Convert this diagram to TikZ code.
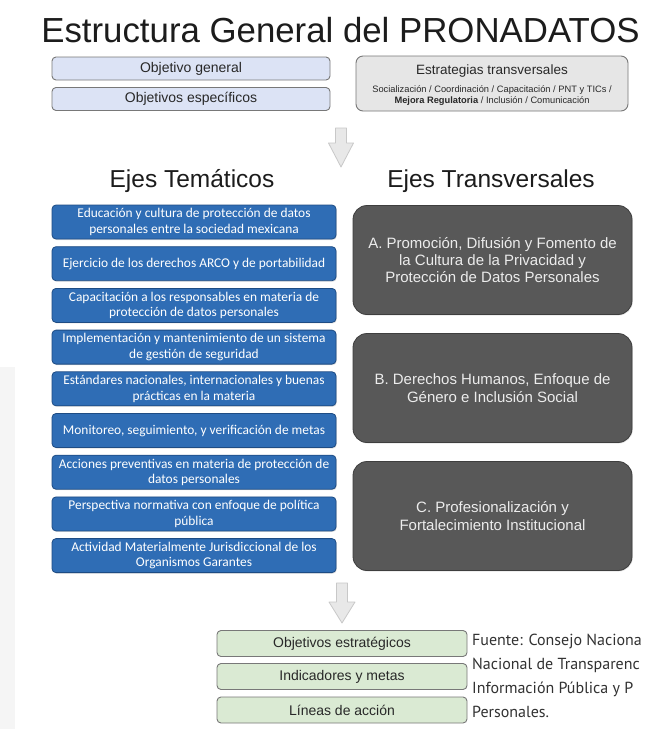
\documentclass[tikz,border=0pt]{standalone}
\usepackage{fontspec}
\setmainfont{Liberation Sans}
\newfontfamily\calib{Carlito}
\newfontfamily\srcfont{PT Sans}
\usetikzlibrary{shadows}
\definecolor{titlecol}{RGB}{28,28,28}
\definecolor{textdark}{RGB}{40,40,40}
\definecolor{lightblue}{RGB}{220,227,245}
\definecolor{boxborder}{RGB}{120,120,120}
\definecolor{etfill}{RGB}{230,230,230}
\definecolor{bluefill}{RGB}{47,109,181}
\definecolor{blueborder}{RGB}{30,76,132}
\definecolor{darkfill}{RGB}{88,88,88}
\definecolor{darkborder}{RGB}{62,62,62}
\definecolor{darktext}{RGB}{236,236,236}
\definecolor{greenfill}{RGB}{218,234,211}
\definecolor{arrowfill}{RGB}{232,232,232}
\definecolor{arrowline}{RGB}{200,200,200}
\definecolor{stripgray}{RGB}{245,245,245}
\definecolor{srccol}{RGB}{50,50,50}
\begin{document}
\begin{tikzpicture}[x=1pt,y=-1pt,
  topblue/.style={draw=boxborder, fill=lightblue, rounded corners=4pt, line width=0.9pt,
    minimum width=278pt, minimum height=23pt, inner sep=0pt, text=textdark,
    font=\fontsize{14}{16}\selectfont},
  topgray/.style={draw=boxborder, fill=etfill, rounded corners=7pt, line width=0.9pt,
    minimum width=272pt, minimum height=55pt, inner sep=0pt},
  bluebox/.style={draw=blueborder, fill=bluefill, rounded corners=4pt, line width=0.8pt,
    minimum width=284pt, minimum height=34pt, inner sep=0pt, align=center, text=white,
    font=\calib\fontsize{13.4}{15.5}\selectfont,
    drop shadow={opacity=0.25, shadow xshift=0.8pt, shadow yshift=-1pt}},
  darkbox/.style={draw=darkborder, fill=darkfill, rounded corners=14pt, line width=0.8pt,
    minimum width=279pt, minimum height=109pt, inner sep=0pt, align=center, text=darktext,
    font=\fontsize{15}{17.3}\selectfont,
    drop shadow={opacity=0.2, shadow xshift=0.8pt, shadow yshift=-1pt}},
  greenbox/.style={draw=boxborder, fill=greenfill, rounded corners=4pt, line width=0.9pt,
    minimum width=250pt, minimum height=26pt, inner sep=0pt, text=textdark,
    font=\fontsize{14}{16}\selectfont},
  heading/.style={anchor=base, text=titlecol, font=\fontsize{24.5}{28}\selectfont},
  blockarrow/.style={draw=arrowline, fill=arrowfill, line width=0.8pt, line join=round},
  srctext/.style={anchor=base west, inner sep=0pt, text=srccol, font=\srcfont\fontsize{16}{18}\selectfont}
]
\useasboundingbox (0,0) rectangle (645,729);
\clip (0,0) rectangle (645,729);
\fill[white] (0,0) rectangle (645,729);
\fill[stripgray] (0,367) rectangle (15,729);

% title
\node[anchor=base, text=titlecol, font=\fontsize{34.8}{40}\selectfont] (title) at (340.5,42)
  {Estructura General del PRONADATOS};

% top boxes
\node[topblue] (og) at (191,68.5) {Objetivo general};
\node[topblue] (oe) at (191,99) {Objetivos específicos};
\node[topgray] (et) at (492,83.5) {};
\node[text=textdark, font=\fontsize{13.5}{15}\selectfont, inner sep=0pt] (etT) at (492,71) {Estrategias transversales};
\node[text=textdark, font=\fontsize{9.3}{10.5}\selectfont, inner sep=0pt, align=center] (etS) at (492,95.5)
  {Socialización / Coordinación / Capacitación / PNT y TICs /\\\textbf{Mejora Regulatoria} / Inclusión / Comunicación};

% arrow 1
\draw[blockarrow] (335.5,128) -- (346.5,128) -- (346.5,143) -- (353.5,143) -- (341,167)
  -- (328.5,143) -- (335.5,143) -- cycle;

% headings
\node[heading] (ejT) at (192,187) {Ejes Temáticos};
\node[heading] (ejX) at (491,187) {Ejes Transversales};

% blue boxes
\node[bluebox] (b1) at (194,222.0) {Educación y cultura de protección de datos\\personales entre la sociedad mexicana};
\node[bluebox] (b2) at (194,263.7) {Ejercicio de los derechos ARCO y de portabilidad};
\node[bluebox] (b3) at (194,305.4) {Capacitación a los responsables en materia de\\protección de datos personales};
\node[bluebox] (b4) at (194,347.1) {Implementación y mantenimiento de un sistema\\de gestión de seguridad};
\node[bluebox] (b5) at (194,388.8) {Estándares nacionales, internacionales y buenas\\prácticas en la materia};
\node[bluebox] (b6) at (194,430.5) {Monitoreo, seguimiento, y verificación de metas};
\node[bluebox] (b7) at (194,472.2) {Acciones preventivas en materia de protección de\\datos personales};
\node[bluebox] (b8) at (194,513.9) {Perspectiva normativa con enfoque de política\\pública};
\node[bluebox] (b9) at (194,555.6) {Actividad Materialmente Jurisdiccional de los\\Organismos Garantes};

% dark boxes
\node[darkbox] (dA) at (492.5,260) {A. Promoción, Difusión y Fomento de\\la Cultura de la Privacidad y\\Protección de Datos Personales};
\node[darkbox] (dB) at (492.5,388) {B. Derechos Humanos, Enfoque de\\Género e Inclusión Social};
\node[darkbox] (dC) at (492.5,516) {C. Profesionalización y\\Fortalecimiento Institucional};

% arrow 2
\draw[blockarrow] (336.5,583) -- (347.5,583) -- (347.5,602) -- (355,602) -- (342,623)
  -- (329,602) -- (336.5,602) -- cycle;

% green boxes
\node[greenbox] (g1) at (342,643.5) {Objetivos estratégicos};
\node[greenbox] (g2) at (342,676.5) {Indicadores y metas};
\node[greenbox] (g3) at (342,710) {Líneas de acción};

% source
\node[srctext] (s1) at (472,645) {Fuente: Consejo Naciona};
\node[srctext] (s2) at (472,669) {Nacional de Transparenc};
\node[srctext] (s3) at (472,693) {Información Pública y P};
\node[srctext] (s4) at (472,717) {Personales.};
\end{tikzpicture}
\end{document}
